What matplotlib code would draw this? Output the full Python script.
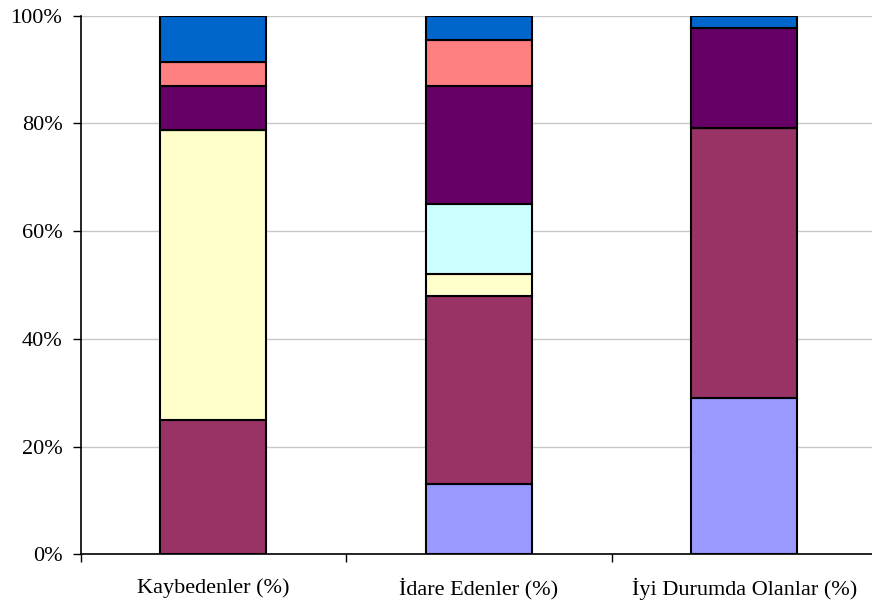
import matplotlib
matplotlib.use('Agg')
import matplotlib.pyplot as plt
import numpy as np

# categories and stacked shares (bottom -> top)
categories = ['Kaybedenler (%)', 'İdare Edenler (%)', 'İyi Durumda Olanlar (%)']
s_periwinkle = [0.0, 13.0, 29.0]
s_plum = [24.9, 34.9, 50.1]
s_yellow = [53.8, 4.1, 0.0]
s_cyan = [0.0, 13.0, 0.0]
s_purple = [8.2, 22.0, 18.6]
s_coral = [4.5, 8.5, 0.0]
s_blue = [8.6, 4.5, 2.3]

series = [s_periwinkle, s_plum, s_yellow, s_cyan, s_purple, s_coral, s_blue]
colors = ['#9999FF', '#993366', '#FFFFCC', '#CCFFFF', '#660066', '#FF8080', '#0066CC']

plt.rcParams['font.family'] = ['Liberation Serif', 'DejaVu Serif']

fig = plt.figure(figsize=(8.72, 6.06), dpi=100)
# axes spans a bit past the right edge, like the source crop
ax = fig.add_axes([80.5 / 872, 1 - 554.3 / 606, (877 - 80.5) / 872, 538.6 / 606])

x = np.arange(len(categories))
totals = np.sum(series, axis=0)
bottom = np.zeros(len(categories))
for vals, col in zip(series, colors):
    pct = np.array(vals) / totals * 100
    ax.bar(x, pct, width=0.4, bottom=bottom, color=col, edgecolor='black',
           linewidth=1.5, zorder=3)
    bottom += pct

ax.set_xlim(-0.5, 2.5)
ax.set_ylim(0, 100)
ax.set_yticks(range(0, 101, 20))
ax.set_yticklabels(['{}%'.format(v) for v in range(0, 101, 20)], fontsize=16)
ax.yaxis.grid(True, color='#c8c8c8', linewidth=1, zorder=0)

# category labels between boundary ticks
ax.set_xticks([-0.5, 0.5, 1.5, 2.5])
ax.set_xticklabels([])
ax.set_xticks(x, minor=True)
ax.set_xticklabels(categories, minor=True, fontsize=16)
ax.tick_params(axis='x', which='minor', length=0, pad=17)
ax.tick_params(axis='x', which='major', length=6, width=1, direction='out')
ax.tick_params(axis='y', length=6, width=1, direction='out', pad=7)

for side in ['top', 'right']:
    ax.spines[side].set_visible(False)
ax.spines['left'].set_linewidth(1.2)
ax.spines['bottom'].set_linewidth(1.2)

fig.savefig('out.png', dpi=100)
